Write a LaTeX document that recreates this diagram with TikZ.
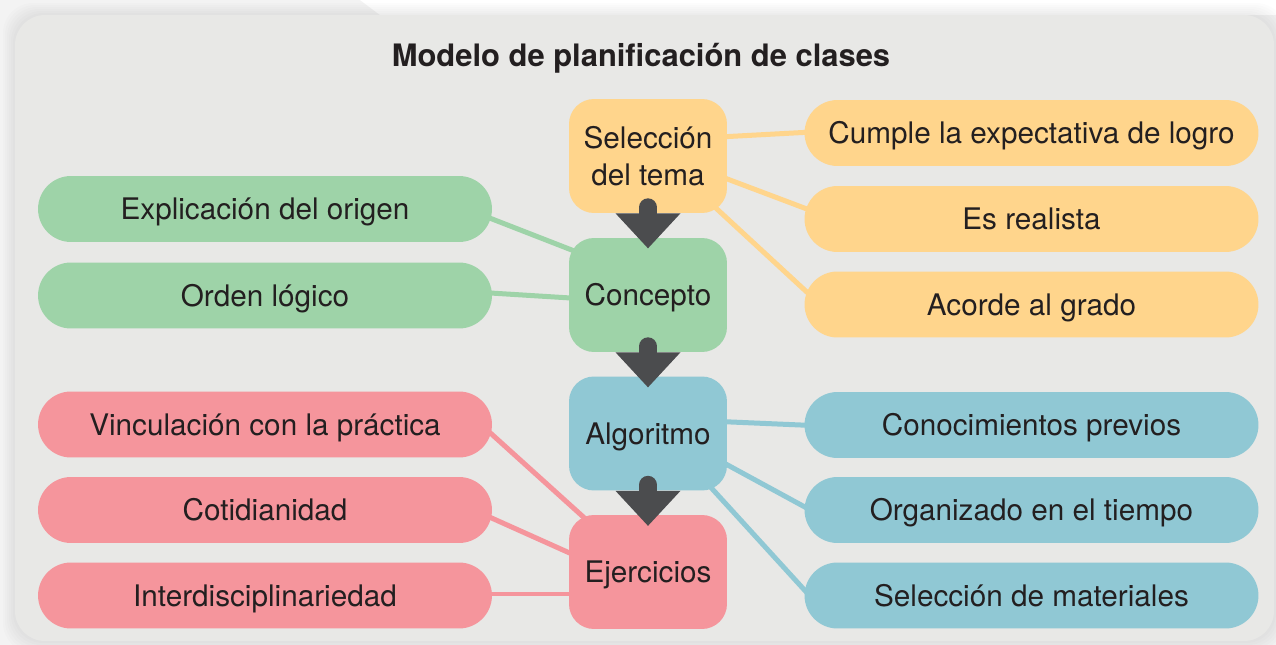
\documentclass[tikz,border=0pt]{standalone}
\usepackage{fontspec}
\setmainfont{TeX Gyre Heros}
\usetikzlibrary{calc,backgrounds}
\definecolor{planGreen}{HTML}{9ED3A8}
\definecolor{planYellow}{HTML}{FFD58C}
\definecolor{planBlue}{HTML}{90C8D4}
\definecolor{planPink}{HTML}{F5959C}
\definecolor{planDark}{HTML}{4B4C4E}
\definecolor{planText}{HTML}{231F20}
\definecolor{planPanel}{HTML}{E8E8E6}
\definecolor{planOuter}{HTML}{F3F3F3}

\begin{document}
\begin{tikzpicture}[x=0.02cm,y=-0.02cm,font=\fontsize{16.9}{21}\selectfont,text=planText,
    hub/.style={fill=#1,rounded corners=0.5cm,minimum width=3.16cm,minimum height=2.28cm,align=center,inner sep=0pt},
    oneline/.style={text height=12.1pt,text depth=0pt},
    pill/.style={fill=#1,rounded corners=0.66cm,minimum width=9.08cm,minimum height=1.32cm,inner sep=0pt,oneline},
    link/.style={#1,line width=0.1cm}]
  \useasboundingbox (0,0) rectangle (1276,645);

  % panel
  \begin{scope}[on background layer]
    \fill[planOuter] (0,0) rectangle (1276,645);
    \fill[white] (360,0) -- (1276,0) -- (1276,15) -- (380,15) -- cycle;
    \foreach \i in {1,...,6}
      \fill[black,opacity=0.012,rounded corners=0.6cm] (15-2*\i,15-2*\i) rectangle (1274+2*\i,641+2*\i);
    \fill[planPanel,rounded corners=0.6cm] (15,15) rectangle (1274,641);
  \end{scope}

  \node[font=\fontsize{17.6}{22}\selectfont\bfseries,text height=12.7pt,text depth=0pt] (title) at (641,55.5) {Modelo de planificación de clases};

  % central steps
  \node[hub=planYellow] (sel) at (648,156) {Selección\\del tema};
  \node[hub=planGreen,oneline] (con) at (648,295) {Concepto};
  \node[hub=planBlue,oneline] (alg) at (648,433.5) {Algoritmo};
  \node[hub=planPink,oneline] (eje) at (648,572) {Ejercicios};

  % side items
  \foreach \y/\n/\t in {209/expl/Explicación del origen, 295.5/orden/Orden lógico}
    \node[pill=planGreen] (\n) at (265,\y) {\t};
  \foreach \y/\n/\t in {424.5/vinc/Vinculación con la práctica, 510/coti/Cotidianidad, 595.5/inter/Interdisciplinariedad}
    \node[pill=planPink] (\n) at (265,\y) {\t};
  \foreach \y/\n/\t in {133/cumple/Cumple la expectativa de logro, 219/real/Es realista, 304.5/grado/Acorde al grado}
    \node[pill=planYellow] (\n) at (1031.5,\y) {\t};
  \foreach \y/\n/\t in {425/previos/Conocimientos previos, 510/tiempo/Organizado en el tiempo, 595.5/mat/Selección de materiales}
    \node[pill=planBlue] (\n) at (1031.5,\y) {\t};

  % step arrows
  \foreach \n in {sel,con,alg} {
    \draw[planDark,line width=0.36cm,line cap=round] ($(\n.south)+(0,-6)$) -- ($(\n.south)+(0,4)$);
    \fill[planDark] ($(\n.south)+(-32.5,0)$) -- ($(\n.south)+(32.5,0)$) -- ($(\n.south)+(0,35)$) -- cycle;
  }

  % links
  \begin{scope}[on background layer]
    \draw[link=planYellow] ($(sel.east)+(-8,-19)$) -- ($(cumple.west)+(8,-1)$);
    \draw[link=planYellow] ($(sel.east)+(-8,20)$) -- ($(real.west)+(8,-8)$);
    \draw[link=planYellow] ($(sel)+(57,42)$) -- ($(grado.west)+(8,-7.5)$);
    \draw[link=planGreen] ($(expl.east)+(-13,5)$) -- ($(con.west)+(21,-38)$);
    \draw[link=planGreen] ($(orden.east)+(-10,-3)$) -- ($(con.west)+(10,3.5)$);
    \draw[link=planBlue] ($(alg.east)+(-8,-12)$) -- ($(previos.west)+(8,0.5)$);
    \draw[link=planBlue] ($(alg.east)+(-8,27)$) -- ($(tiempo.west)+(8,1)$);
    \draw[link=planBlue] ($(alg)+(52,42)$) -- ($(mat.west)+(8,3)$);
    \draw[link=planPink] ($(vinc.east)+(-13,-1.5)$) -- ($(eje.west)+(28,-43)$);
    \draw[link=planPink] ($(coti.east)+(-13,2.5)$) -- ($(eje.west)+(11,-14.5)$);
    \draw[link=planPink] ($(inter.east)+(-13,-1.5)$) -- ($(eje.west)+(10,22)$);
  \end{scope}
\end{tikzpicture}
\end{document}
